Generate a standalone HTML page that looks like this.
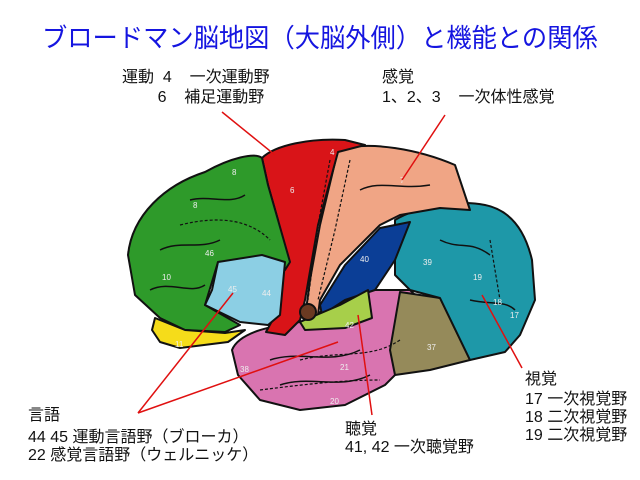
<!DOCTYPE html>
<html><head><meta charset="utf-8"><style>
body{margin:0;width:640px;height:480px;background:#fff;overflow:hidden;position:relative;font-family:"Liberation Sans","Noto Sans CJK JP",sans-serif}
.t{position:absolute;font-size:16px;line-height:18px;color:#111;white-space:pre}
#title{position:absolute;left:42px;top:18px;font-size:26px;color:#1515e0;white-space:nowrap;transform-origin:0 0}
</style></head><body>
<div id="title">ブロードマン脳地図（大脳外側）と機能との関係</div>
<svg width="640" height="480" style="position:absolute;left:0;top:0">
<g stroke="#111" stroke-width="2" stroke-linejoin="round">
<path d="M232,350 C240,330 280,325 300,322 L345,300 L372,290 L410,290 L420,300 L405,365 L385,385 L345,405 L300,410 L260,400 L238,375 Z" fill="#d974b0"/>
<path d="M400,292 L440,298 L470,360 L430,370 L395,375 L390,350 Z" fill="#958a5a"/>
<path d="M395,220 C420,205 460,200 485,205 C510,210 525,230 532,260 L535,300 L520,335 L505,352 L470,360 L440,298 L410,290 L395,275 Z" fill="#1e98a8"/>
<path d="M338,150 C370,140 420,150 455,165 L470,210 L440,208 L400,215 L380,225 L340,265 L320,300 L318,315 L305,318 L310,280 L320,225 Z" fill="#f0a585"/>
<path d="M320,305 L345,265 L380,228 L410,222 L395,260 L375,290 L345,300 L322,315 Z" fill="#0b3e96"/>
<path d="M262,158 C275,145 310,138 345,140 L365,145 L338,152 L318,225 L305,300 L300,320 L285,335 L266,332 L278,310 L285,260 L278,220 L268,185 Z" fill="#d91418"/>
<path d="M128,255 C132,215 165,185 205,172 C230,158 255,152 262,158 L268,185 L278,220 L290,262 L285,270 L262,258 L218,262 L205,305 L240,325 L225,332 L185,330 L160,318 L135,295 Z" fill="#2e9a2a"/>
<path d="M218,262 L262,255 L285,262 L280,315 L268,325 L240,322 L205,305 L212,290 Z" fill="#8ccfe4"/>
<path d="M155,318 L185,330 L225,333 L245,330 L228,342 L180,348 L160,342 L152,330 Z" fill="#f5dc1a"/>
<path d="M300,322 L340,305 L368,290 L372,318 L345,328 L305,330 Z" fill="#a7cf4a"/>
<circle cx="308" cy="312" r="8" fill="#6b3a22"/>
</g>
<g fill="none" stroke="#111" stroke-width="1.2" stroke-dasharray="3,2">
<path d="M330,160 L318,225 L308,300"/><path d="M350,160 L335,230 L318,300"/>
<path d="M180,225 C220,215 250,220 270,240"/><path d="M300,360 C340,350 370,360 400,340"/>
<path d="M490,240 L500,300"/><path d="M260,390 C300,385 340,380 380,380"/>
</g>
<g fill="none" stroke="#111" stroke-width="1.5">
<path d="M160,250 C180,240 200,250 220,240"/><path d="M150,290 C170,280 190,295 205,285"/>
<path d="M190,200 C210,195 230,205 245,195"/><path d="M270,360 C300,350 330,365 360,350"/>
<path d="M280,385 C310,375 340,390 370,375"/><path d="M440,240 C460,250 470,240 490,255"/>
<path d="M470,300 C490,305 505,300 515,310"/><path d="M360,190 C380,180 400,190 430,185"/>
</g>
<g font-size="8" fill="#eee" font-family="Liberation Sans">
<text x="232" y="175">8</text><text x="193" y="208">8</text><text x="162" y="280">10</text><text x="205" y="256">46</text>
<text x="228" y="292">45</text><text x="262" y="296">44</text><text x="290" y="193">6</text><text x="330" y="155">4</text>
<text x="400" y="183">7</text><text x="360" y="262">40</text><text x="423" y="265">39</text><text x="473" y="280">19</text>
<text x="493" y="305">18</text><text x="510" y="318">17</text><text x="427" y="350">37</text><text x="340" y="370">21</text>
<text x="240" y="372">38</text><text x="330" y="404">20</text><text x="175" y="347">11</text><text x="345" y="328">42</text>
</g>
<g stroke="#e01010" stroke-width="1.5">
<line x1="222" y1="112" x2="275" y2="155"/><line x1="445" y1="115" x2="402" y2="180"/>
<line x1="138" y1="413" x2="233" y2="293"/><line x1="138" y1="413" x2="338" y2="342"/>
<line x1="372" y1="415" x2="358" y2="315"/><line x1="522" y1="368" x2="482" y2="295"/>
</g>
</svg>
<div class="t" style="left:122px;top:69px">運動  4    一次運動野</div>
<div class="t" style="left:122px;top:89px">        6    補足運動野</div>
<div class="t" style="left:382px;top:69px">感覚</div>
<div class="t" style="left:382px;top:89px">1、2、3    一次体性感覚</div>
<div class="t" style="left:28px;top:407px">言語</div>
<div class="t" style="left:28px;top:429px">44 45 運動言語野（ブローカ）</div>
<div class="t" style="left:28px;top:447px">22 感覚言語野（ウェルニッケ）</div>
<div class="t" style="left:345px;top:421px">聴覚</div>
<div class="t" style="left:345px;top:439px">41, 42 一次聴覚野</div>
<div class="t" style="left:525px;top:371px">視覚</div>
<div class="t" style="left:525px;top:391px">17 一次視覚野</div>
<div class="t" style="left:525px;top:409px">18 二次視覚野</div>
<div class="t" style="left:525px;top:427px">19 二次視覚野</div>
<script>var t=document.getElementById('title');t.style.transform='scaleX('+(556/t.offsetWidth)+')';</script>
</body></html>
